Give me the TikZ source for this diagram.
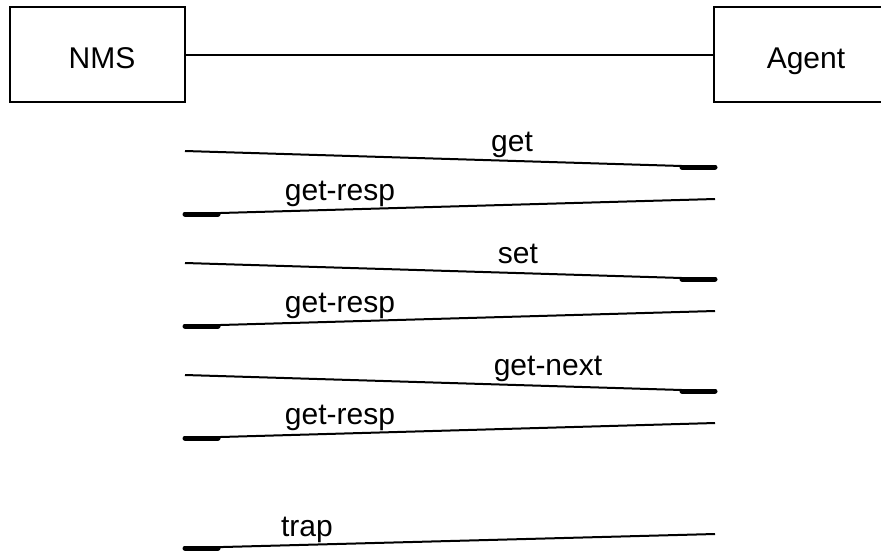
\documentclass[tikz,border=0pt]{standalone}
\usepackage{fontspec}
\setmainfont{Liberation Sans}
\usetikzlibrary{calc}
\begin{document}
\begin{tikzpicture}[x=1pt,y=-1pt,
  box/.style={draw, line width=2.5pt, minimum width=175pt, minimum height=95pt,
    font=\fontsize{30}{36}\selectfont, inner sep=0pt, text height=27pt, text depth=0pt},
  msg/.style={line width=2pt},
  tipseg/.style={line width=5pt, line cap=round},
  lbl/.style={anchor=base, font=\fontsize{30}{36}\selectfont, inner sep=0pt}]
\useasboundingbox (0,0) rectangle (881,550);
\clip (0,0) rectangle (881,550);
\node[box] (nms) at (97.5,54.5) {\hspace*{9pt}NMS};
\node[box] (agent) at (801.5,54.5) {\hspace*{9pt}Agent};
\draw[line width=2pt] (nms.east) -- (agent.west);

% get
\coordinate (m1s) at (185,151); \coordinate (m1e) at (715,167);
\draw[msg] (m1s) -- (m1e);
\draw[tipseg] ($(m1e)+(-33,0)$) -- (m1e);
\node[lbl] (l1) at (512,151) {get};
% get-resp
\coordinate (m2s) at (715,199); \coordinate (m2e) at (185,214);
\draw[msg] (m2s) -- (m2e);
\draw[tipseg] ($(m2e)+(33,0)$) -- (m2e);
\node[lbl] (l2) at (340,200) {get-resp};
% set
\coordinate (m3s) at (185,263); \coordinate (m3e) at (715,279);
\draw[msg] (m3s) -- (m3e);
\draw[tipseg] ($(m3e)+(-33,0)$) -- (m3e);
\node[lbl] (l3) at (518,263) {set};
% get-resp
\coordinate (m4s) at (715,311); \coordinate (m4e) at (185,326);
\draw[msg] (m4s) -- (m4e);
\draw[tipseg] ($(m4e)+(33,0)$) -- (m4e);
\node[lbl] (l4) at (340,312) {get-resp};
% get-next
\coordinate (m5s) at (185,375); \coordinate (m5e) at (715,391);
\draw[msg] (m5s) -- (m5e);
\draw[tipseg] ($(m5e)+(-33,0)$) -- (m5e);
\node[lbl] (l5) at (548,375) {get-next};
% get-resp
\coordinate (m6s) at (715,423); \coordinate (m6e) at (185,438);
\draw[msg] (m6s) -- (m6e);
\draw[tipseg] ($(m6e)+(33,0)$) -- (m6e);
\node[lbl] (l6) at (340,424) {get-resp};
% trap
\coordinate (m7s) at (715,534); \coordinate (m7e) at (185,548);
\draw[msg] (m7s) -- (m7e);
\draw[tipseg] ($(m7e)+(33,0)$) -- (m7e);
\node[lbl] (l7) at (307,536) {trap};
\end{tikzpicture}
\end{document}
